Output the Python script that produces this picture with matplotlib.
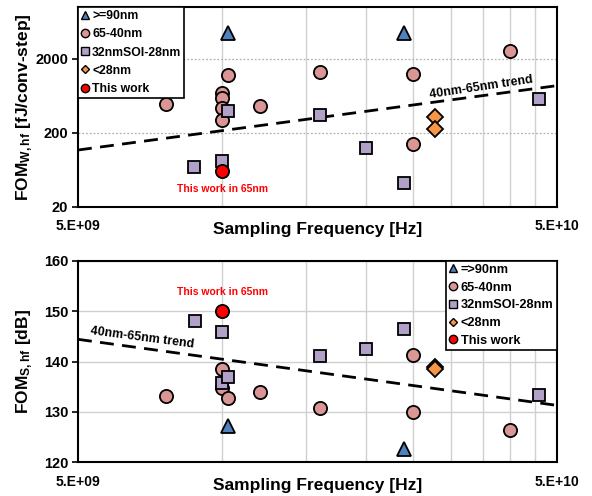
import matplotlib
matplotlib.use("Agg")
import matplotlib.pyplot as plt
from matplotlib.ticker import FixedLocator, NullFormatter
from matplotlib.lines import Line2D

plt.rcParams['font.family'] = ['Liberation Sans', 'DejaVu Sans']
plt.rcParams['font.weight'] = 'bold'
plt.rcParams['mathtext.fontset'] = 'custom'
plt.rcParams['mathtext.rm'] = 'Liberation Sans:bold'
plt.rcParams['mathtext.bf'] = 'Liberation Sans:bold'
plt.rcParams['mathtext.it'] = 'Liberation Sans:bold'

# ---------------- data: top chart (FOM_W,hf) ----------------
w_tri_f = [1.03e10, 2.4e10]
w_tri_v = [4500, 4500]
w_cir_f = [7.63e9, 1e10, 1e10, 1e10, 1e10, 1.03e10, 1.2e10, 1.6e10, 2.5e10, 2.5e10, 4e10]
w_cir_v = [490, 692, 591, 433, 294, 1225, 465, 1333, 1262, 141, 2535]
w_sq_f = [8.75e9, 1e10, 1.03e10, 1.6e10, 2e10, 2.4e10, 4.59e10]
w_sq_v = [70, 82, 389, 351, 124, 41.5, 573]
w_dia_f = [2.79e10, 2.79e10]
w_dia_v = [323, 224]
w_red_f = [1e10]
w_red_v = [60]
w_trend_f = [5e9, 5e10]
w_trend_v = [117, 869]

# ---------------- data: bottom chart (FOM_S,hf) ----------------
s_tri_f = [1.03e10, 2.4e10]
s_tri_v = [127.3, 122.7]
s_cir_f = [7.63e9, 1e10, 1e10, 1.03e10, 1.2e10, 1.6e10, 2.5e10, 2.5e10, 4e10]
s_cir_v = [133.2, 138.5, 134.7, 132.75, 133.9, 130.8, 141.2, 129.9, 126.5]
s_sq_f = [8.77e9, 1e10, 1e10, 1.03e10, 1.6e10, 2e10, 2.4e10, 4.59e10]
s_sq_v = [148.1, 145.8, 135.7, 136.9, 141.1, 142.5, 146.4, 133.3]
s_dia_f = [2.79e10, 2.79e10]
s_dia_v = [139.0, 138.5]
s_red_f = [1e10]
s_red_v = [150]
s_trend_f = [5e9, 5e10]
s_trend_v = [144.4, 131.3]

top_labels = [">=90nm", "65-40nm", "32nmSOI-28nm", "<28nm", "This work"]
bot_labels = ["=>90nm", "65-40nm", "32nmSOI-28nm", "<28nm", "This work"]
x_ticks = [5e9, 5e10]
x_ticklabels = ["5.E+09", "5.E+10"]
x_minor = [5e9 * k for k in range(2, 10)]

C_TRI = '#4F81BD'
C_CIR = '#DA9694'
C_SQ = '#B1A0C7'
C_DIA = '#F79646'
C_RED = '#FF0000'

fig = plt.figure(figsize=(5.92, 4.96), dpi=100)
ax1 = fig.add_axes([78/592, 1-206.7/496, (556.7-78)/592, (206.7-7.3)/496])
ax2 = fig.add_axes([78/592, 1-462.3/496, (556.7-78)/592, (462.3-260.7)/496])

ms = 9.5
def draw(ax, d):
    (tf, tv), (cf, cv), (qf, qv), (df, dv), (rf, rv) = d
    ax.plot(cf, cv, 'o', ms=ms, mfc=C_CIR, mec='black', mew=1.3, ls='none', zorder=4)
    ax.plot(qf, qv, 's', ms=ms-0.5, mfc=C_SQ, mec='black', mew=1.3, ls='none', zorder=5)
    ax.plot(df, dv, 'D', ms=ms-1.5, mfc=C_DIA, mec='black', mew=1.3, ls='none', zorder=5)
    ax.plot(tf, tv, '^', ms=ms, mfc=C_TRI, mec='black', mew=1.3, ls='none', zorder=5)
    ax.plot(rf, rv, 'o', ms=ms, mfc=C_RED, mec='black', mew=1.3, ls='none', zorder=6)

draw(ax1, [(w_tri_f, w_tri_v), (w_cir_f, w_cir_v), (w_sq_f, w_sq_v), (w_dia_f, w_dia_v), (w_red_f, w_red_v)])
draw(ax2, [(s_tri_f, s_tri_v), (s_cir_f, s_cir_v), (s_sq_f, s_sq_v), (s_dia_f, s_dia_v), (s_red_f, s_red_v)])

ax1.plot(w_trend_f, w_trend_v, color='black', ls=(0, (5, 3)), lw=2, zorder=3)
ax2.plot(s_trend_f, s_trend_v, color='black', ls=(0, (5, 3)), lw=2, zorder=3)

for ax in (ax1, ax2):
    ax.set_xscale('log')
    ax.set_xlim(5e9, 5e10)
    ax.xaxis.set_major_locator(FixedLocator(x_ticks))
    ax.set_xticklabels(x_ticklabels)
    ax.xaxis.set_minor_locator(FixedLocator(x_minor))
    ax.xaxis.set_minor_formatter(NullFormatter())
    ax.tick_params(axis='x', which='both', length=0, pad=9, labelsize=10)
    ax.tick_params(axis='y', which='major', length=4, width=1.2, direction='out', labelsize=10.5, pad=3)
    ax.tick_params(axis='y', which='minor', length=0)
    ax.grid(True, which='minor', axis='x', color='#d0d0d0', lw=1, zorder=0)
    for sp in ax.spines.values():
        sp.set_linewidth(1.5)
        sp.set_color('black')
    ax.set_xlabel("Sampling Frequency [Hz]", fontsize=12.5, fontweight='bold', labelpad=-8)
    ax.set_axisbelow(True)

ax1.set_yscale('log')
ax1.set_ylim(20, 10000)
ax1.yaxis.set_major_locator(FixedLocator([20, 200, 2000]))
ax1.set_yticklabels(["20", "200", "2000"])
ax1.yaxis.set_minor_locator(FixedLocator([]))
ax1.grid(True, which='major', axis='y', color='#b0b0b0', lw=0.9, ls=(0, (1.5, 1.5)), zorder=0)
ax1.set_ylabel("FOM$_{\\mathrm{W,hf}}$ [fJ/conv-step]", fontsize=12.5, fontweight='bold')
ax1.yaxis.set_label_coords(-0.09, 0.5)

ax2.set_ylim(120, 160)
ax2.set_yticks([120, 130, 140, 150, 160])
ax2.grid(True, which='major', axis='y', color='#d0d0d0', lw=1, zorder=0)
ax2.set_ylabel("FOM$_{\\mathrm{S,hf}}$ [dB]", fontsize=12.5, fontweight='bold')
ax2.yaxis.set_label_coords(-0.09, 0.5)

ax1.text(1e10, 35, "This work in 65nm", color=C_RED, fontsize=7.5, fontweight='bold', ha='center', va='center')
ax2.text(1e10, 153.7, "This work in 65nm", color=C_RED, fontsize=7.5, fontweight='bold', ha='center', va='center')
ax1.text(3.47e10, 817, "40nm-65nm trend", fontsize=9, fontweight='bold', ha='center', va='center', rotation=8.5)
ax2.text(6.8e9, 144.7, "40nm-65nm trend", fontsize=9, fontweight='bold', ha='center', va='center', rotation=-7.5)

def handles():
    return [
        Line2D([], [], marker='^', ls='none', ms=6, mfc=C_TRI, mec='black', mew=1),
        Line2D([], [], marker='o', ls='none', ms=6, mfc=C_CIR, mec='black', mew=1),
        Line2D([], [], marker='s', ls='none', ms=6, mfc=C_SQ, mec='black', mew=1),
        Line2D([], [], marker='D', ls='none', ms=4.5, mfc=C_DIA, mec='black', mew=1),
        Line2D([], [], marker='o', ls='none', ms=6, mfc=C_RED, mec='black', mew=1),
    ]

leg1 = ax1.legend(handles(), top_labels, loc='upper left', bbox_to_anchor=(0, 1), fontsize=8.8,
                  frameon=True, fancybox=False, edgecolor='black', framealpha=1,
                  handlelength=0.6, handletextpad=0.3, labelspacing=0.5, borderpad=0.25, borderaxespad=0)
leg1.get_frame().set_linewidth(1.2)
leg2 = ax2.legend(handles(), bot_labels, loc='upper right', bbox_to_anchor=(1, 1), fontsize=9.2,
                  frameon=True, fancybox=False, edgecolor='black', framealpha=1,
                  handlelength=0.6, handletextpad=0.3, labelspacing=0.45, borderpad=0.25, borderaxespad=0)
leg2.get_frame().set_linewidth(1.2)
for leg in (leg1, leg2):
    leg.set_zorder(10)
    for t in leg.get_texts():
        t.set_fontweight('bold')

fig.savefig("out.png", dpi=100)
